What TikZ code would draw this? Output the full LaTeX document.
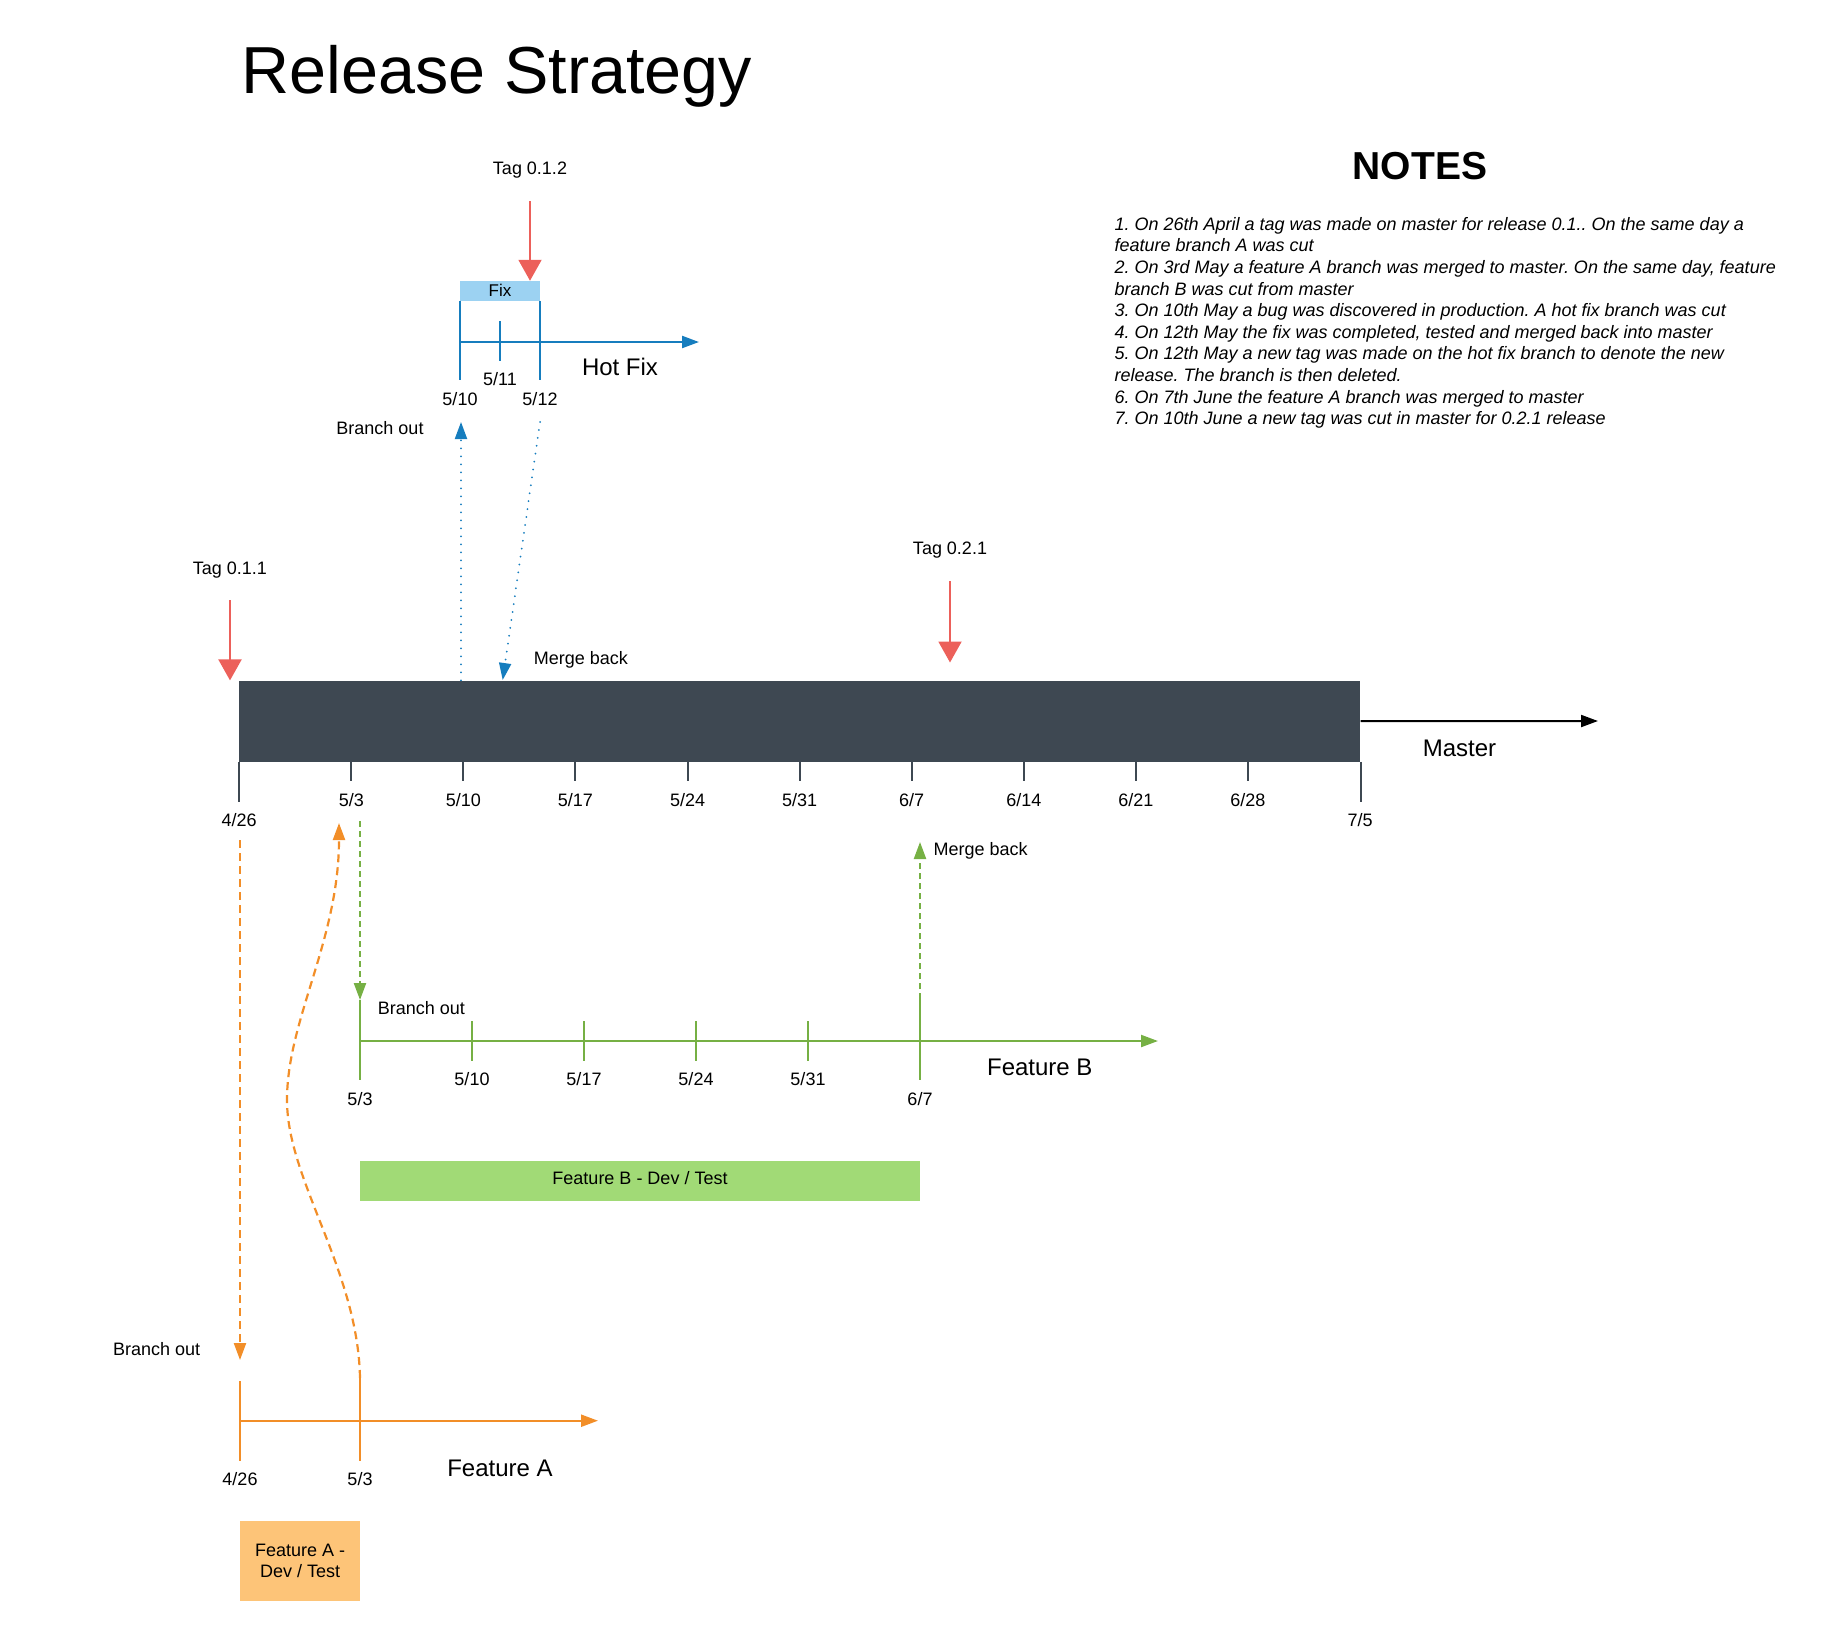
\documentclass[tikz,border=0pt]{standalone}
\usepackage{fontspec}
\setmainfont{Liberation Sans}
\usetikzlibrary{arrows.meta,positioning}
\frenchspacing

\definecolor{slate}{RGB}{62,72,82}
\definecolor{tagred}{RGB}{236,96,90}
\definecolor{fixblue}{RGB}{22,125,190}
\definecolor{fixlight}{RGB}{156,210,242}
\definecolor{featgreen}{RGB}{118,176,68}
\definecolor{greenlight}{RGB}{161,218,118}
\definecolor{featorange}{RGB}{242,142,40}
\definecolor{orangelight}{RGB}{253,196,120}

\tikzset{
  lbl/.style={inner sep=0pt, anchor=base, font=\fontsize{18}{21.6}\selectfont},
  biglbl/.style={inner sep=0pt, anchor=base, font=\fontsize{24}{28}\selectfont},
  smalltip/.style={-{Triangle[length=17pt,width=12pt]}},
  tagarrow/.style={tagred, line width=2pt, -{Triangle[length=21pt,width=23pt]}},
  mtick/.style={slate, line width=2pt},
  bluebranch/.style={fixblue, line width=2.2pt},
  blueflow/.style={fixblue, line width=2pt, line cap=round, dash pattern=on 0pt off 8pt, smalltip},
  greenbranch/.style={featgreen, line width=2.2pt},
  greenflow/.style={featgreen, line width=2.2pt, dash pattern=on 6pt off 4pt, smalltip},
  orangebranch/.style={featorange, line width=2.2pt},
  orangeflow/.style={featorange, line width=2.2pt, dash pattern=on 8pt off 5pt, smalltip},
  devbox/.style={inner sep=0pt, anchor=north west, align=center, font=\fontsize{18}{21.3}\selectfont}
}

\begin{document}
\begin{tikzpicture}[x=1pt,y=-1pt]
\useasboundingbox (0,0) rectangle (1821,1641);

% Title and notes
\node[inner sep=0pt, anchor=base, font=\fontsize{66.5}{70}\selectfont] (title) at (497,93.3) {Release Strategy};
\node[inner sep=0pt, anchor=base, font=\bfseries\fontsize{39}{42}\selectfont] (notes) at (1420,179.3) {NOTES};
\node[inner sep=0pt, anchor=north west, align=left, font=\itshape\fontsize{18}{21.6}\selectfont] (notelist) at (1114.3,217) {%
1. On 26th April a tag was made on master for release 0.1.. On the same day a\\
feature branch A was cut\\
2. On 3rd May a feature A branch was merged to master. On the same day, feature\\
branch B was cut from master\\
3. On 10th May a bug was discovered in production. A hot fix branch was cut\\
4. On 12th May the fix was completed, tested and merged back into master\\
5. On 12th May a new tag was made on the hot fix branch to denote the new\\
release. The branch is then deleted.\\
6. On 7th June the feature A branch was merged to master\\
7. On 10th June a new tag was cut in master for 0.2.1 release};

% Master timeline
\node[fill=slate, inner sep=0pt, minimum width=1121pt, minimum height=81pt, anchor=north west] (master) at (239.2,680.4) {};
\coordinate (masterend) at (1598,721);
\draw[line width=2pt, smalltip] (master.east) -- (masterend);
\node[biglbl] (masterlbl) at (1459.5,756) {Master};

\draw[mtick] (master.south west) -- ++(0,40);
\node[lbl] (m426) at (239.2,826) {4/26};
\foreach \lab [count=\i] in {5/3,5/10,5/17,5/24,5/31,6/7,6/14,6/21,6/28} {
  \draw[mtick] (239.2+112.08*\i,761) -- ++(0,19.5);
  \node[lbl] (mt\i) at (239.2+112.08*\i,806) {\lab};
}
\draw[mtick] (master.south east) -- ++(0,40);
\node[lbl] (m75) at (1360,826) {7/5};

% Hot fix branch
\node[fill=fixlight, inner sep=0pt, minimum width=80pt, minimum height=19.7pt, font=\fontsize{17}{20}\selectfont] (fix) at (500,290.8) {Fix};
\draw[bluebranch] (fix.south west) -- ++(0,79);
\draw[bluebranch] (fix.south east) -- ++(0,79);
\coordinate (hf510) at (460,342);
\coordinate (hf511) at (500,321);
\coordinate (hf512) at (540,342);
\coordinate (hfend) at (699,342);
\draw[bluebranch] (hf511) -- ++(0,40);
\draw[bluebranch] (hf510) -- (hf512);
\draw[bluebranch, smalltip] (hf512) -- (hfend);
\node[lbl] (hl511) at (500,385.7) {5/11};
\node[lbl] (hl510) at (460,405.7) {5/10};
\node[lbl] (hl512) at (540,405.7) {5/12};
\node[biglbl] (hotfix) at (620,375.7) {Hot Fix};

% Tags
\node[lbl] (tag012) at (530,174.3) {Tag 0.1.2};
\coordinate (tag012s) at (530,201);
\draw[tagarrow] (tag012s) -- (tag012s |- fix.north);

\node[lbl] (tag011) at (230,574.5) {Tag 0.1.1};
\coordinate (tag011s) at (230,600);
\draw[tagarrow] (tag011s) -- (tag011s |- master.north);

\node[lbl] (tag021) at (950,554) {Tag 0.2.1};
\coordinate (tag021s) at (950,581);
\coordinate (tag021e) at (950,662.5);
\draw[tagarrow] (tag021s) -- (tag021e);

% Hot fix out of and back into master
\node[lbl] (hfout) at (380,434.7) {Branch out};
\coordinate (hfoutend) at (461,422);
\draw[blueflow] (hfoutend |- master.north) -- (hfoutend);
\coordinate (hfback) at (540,422);
\coordinate (hfbackend) at (502.7,680);
\draw[blueflow] (hfback) -- (hfbackend);
\node[lbl, anchor=base west] (hfmerge) at (533.6,664) {Merge back};

% Feature B branch
\coordinate (fb53) at (360,1041);
\coordinate (fbend) at (1158,1041);
\draw[greenbranch, smalltip] (fb53) -- (fbend);
\draw[greenbranch] (360,1000) -- (360,1080);
\foreach \lab [count=\i] in {5/10,5/17,5/24,5/31} {
  \draw[greenbranch] (360+112*\i,1021) -- ++(0,40);
  \node[lbl] (fbt\i) at (360+112*\i,1085) {\lab};
}
\draw[greenbranch] (920,999) -- (920,1080);
\node[lbl] (fb53lbl) at (360,1105) {5/3};
\node[lbl] (fb67lbl) at (920,1105) {6/7};
\node[biglbl] (featb) at (1039.8,1075.7) {Feature B};
\node[lbl, anchor=base west] (fbout) at (377.7,1014.3) {Branch out};
\node[lbl, anchor=base west] (fbmerge) at (933.3,855) {Merge back};
\coordinate (fbstart) at (360,821);
\coordinate (fbtop) at (920,842);
\draw[greenflow] (fbstart) -- (360,1000);
\draw[greenflow] (920,999) -- (fbtop);
\node[fill=greenlight, inner sep=0pt, minimum width=560pt, minimum height=39.7pt, anchor=north west] (fbdev) at (360,1161) {};
\node[lbl] (fbdevlbl) at (640,1184) {Feature B - Dev / Test};

% Feature A branch
\coordinate (fa426) at (240,1420.7);
\coordinate (faend) at (598,1420.7);
\draw[orangebranch, smalltip] (fa426) -- (faend);
\draw[orangebranch] (240,1381) -- (240,1460.7);
\draw[orangebranch] (360,1378) -- (360,1460.7);
\node[lbl] (fa426lbl) at (240,1485.7) {4/26};
\node[lbl] (fa53lbl) at (360,1485.7) {5/3};
\node[biglbl] (feata) at (500,1476) {Feature A};
\node[lbl] (faout) at (156.7,1355) {Branch out};
\coordinate (fastart) at (240,840);
\draw[orangeflow] (fastart) -- (240,1360);
\draw[orangeflow] (360,1378) .. controls (358,1270) and (287,1180) .. (287,1100)
  .. controls (287,1020) and (339,940) .. (339,823);
\node[devbox, fill=orangelight, minimum width=120pt, minimum height=79.7pt] (fadev) at (240,1521) {Feature A -\\Dev / Test};

\end{tikzpicture}
\end{document}
